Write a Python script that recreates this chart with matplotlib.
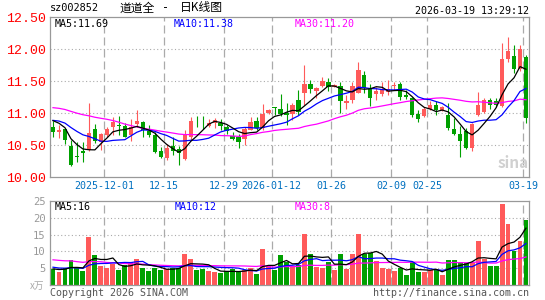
import numpy as np
import matplotlib.pyplot as plt

# 日K数据：开 高 低 收（2025-11-18 ~ 2026-03-19，共80个交易日）
opens = [10.78, 10.70, 10.75, 10.48, 10.33, 10.40, 10.42, 10.75, 10.55, 10.66,
         10.78, 10.82, 10.80, 10.66, 10.83, 10.86, 10.72, 10.66, 10.40, 10.30,
         10.48, 10.43, 10.28, 10.62, 10.88, 10.88, 10.80, 10.84, 10.85, 10.78,
         10.64, 10.63, 10.59, 10.74, 10.88, 10.76, 11.00, 11.09, 11.06, 11.00,
         10.985, 11.20, 11.32, 11.45, 11.34, 11.42, 11.48, 11.41, 11.42, 11.16,
         11.20, 11.31, 11.59, 11.37, 11.30, 11.30, 11.33, 11.42, 11.46, 11.28,
         11.23, 10.985, 10.95, 11.07, 11.125, 11.05, 10.97, 10.75, 10.67, 10.72,
         10.45, 10.97, 11.02, 11.20, 11.19, 11.11, 11.85, 11.89, 11.68, 11.88]
highs = [10.87, 10.82, 10.77, 10.58, 10.54, 10.54, 11.15, 10.83, 10.68, 10.78,
         10.93, 10.96, 10.84, 10.90, 11.04, 10.87, 10.82, 10.70, 10.47, 10.52,
         10.63, 10.48, 10.73, 10.93, 10.95, 10.95, 10.90, 10.92, 10.90, 10.82,
         10.70, 10.67, 10.78, 10.93, 10.93, 11.14, 11.06, 11.09, 11.30, 11.16,
         11.16, 11.36, 11.75, 11.52, 11.41, 11.57, 11.54, 11.45, 11.49, 11.28,
         11.49, 11.79, 11.65, 11.46, 11.41, 11.49, 11.52, 11.49, 11.49, 11.36,
         11.25, 11.05, 11.09, 11.18, 11.18, 11.11, 11.16, 10.92, 10.79, 10.76,
         10.84, 11.33, 11.23, 11.23, 11.23, 12.09, 12.19, 12.06, 12.06, 11.91]
lows = [10.63, 10.61, 10.52, 10.17, 10.24, 10.23, 10.41, 10.53, 10.42, 10.63,
        10.65, 10.65, 10.62, 10.57, 10.78, 10.63, 10.62, 10.37, 10.30, 10.26,
        10.34, 10.19, 10.27, 10.58, 10.78, 10.75, 10.78, 10.76, 10.74, 10.67,
        10.58, 10.46, 10.50, 10.73, 10.74, 10.74, 10.98, 10.97, 10.95, 10.81,
        10.89, 10.97, 11.12, 11.31, 11.23, 11.40, 11.34, 11.40, 11.00, 11.07,
        11.16, 11.31, 11.31, 11.11, 11.20, 11.27, 11.28, 11.36, 11.21, 11.22,
        10.94, 10.86, 10.93, 11.05, 10.97, 11.03, 10.73, 10.66, 10.32, 10.43,
        10.40, 10.96, 11.00, 11.07, 11.10, 11.10, 11.80, 11.63, 11.65, 10.85]
closes = [10.71, 10.74, 10.58, 10.19, 10.31, 10.37, 10.68, 10.57, 10.67, 10.75,
          10.86, 10.80, 10.63, 10.78, 10.88, 10.73, 10.65, 10.39, 10.31, 10.46,
          10.41, 10.37, 10.66, 10.88, 10.87, 10.87, 10.84, 10.89, 10.79, 10.72,
          10.59, 10.55, 10.745, 10.86, 10.76, 10.98, 11.05, 11.08, 10.98, 10.97,
          11.125, 11.02, 11.46, 11.37, 11.385, 11.50, 11.41, 11.44, 11.19, 11.19,
          11.42, 11.67, 11.385, 11.23, 11.35, 11.37, 11.37, 11.43, 11.255, 11.245,
          10.97, 10.90, 11.07, 11.125, 11.045, 11.09, 10.76, 10.67, 10.57, 10.46,
          10.83, 11.125, 11.20, 11.125, 11.125, 11.85, 11.97, 11.68, 12.00, 10.92]
# 成交量（万手）
volumes = [4.8, 4.0, 5.1, 7.3, 5.0, 4.1, 14.3, 8.8, 5.8, 5.0,
           6.3, 4.5, 6.1, 6.8, 7.6, 5.0, 4.1, 5.0, 4.5, 4.8,
           5.1, 5.1, 9.1, 7.6, 4.5, 4.8, 4.1, 3.8, 3.5, 4.1,
           4.8, 3.8, 4.5, 5.0, 3.3, 10.8, 5.6, 4.5, 8.8, 6.8,
           5.8, 6.1, 15.3, 9.1, 5.5, 5.1, 6.8, 4.5, 9.1, 4.8,
           9.1, 15.1, 9.1, 9.5, 7.1, 5.1, 4.8, 4.3, 5.0, 3.1,
           6.8, 3.8, 3.8, 4.5, 4.5, 3.1, 7.5, 7.3, 6.8, 6.5,
           6.5, 13.0, 7.8, 5.8, 5.8, 24.1, 18.1, 10.1, 13.0, 19.3]

# 图内第一天之前29天的收盘价/成交量（按均线起点估计，只用来算均线）
hist_close = [11.05, 11.12, 11.08, 11.15, 11.10, 11.18, 11.25, 11.16, 11.21,
              11.45, 11.58, 11.52, 11.47, 11.50, 11.48,
              10.95, 10.85, 10.82, 10.88, 10.85,
              10.85, 10.90, 10.88, 10.92, 10.90,
              10.94, 10.93, 11.05, 10.77]
hist_vol = [9, 9, 8, 12, 10, 8, 9, 7, 11, 9, 8, 10, 9, 8, 7, 9, 8, 7, 7, 7,
            6.5, 5.5, 6.0, 5.5, 5.5, 5.0, 4.6, 4.8, 4.8]

tick_idx = [9, 19, 29, 37, 47, 57, 63, 79]
tick_labels = ['2025-12-01', '12-15', '12-29', '2026-01-12',
               '01-26', '02-09', '02-25', '03-19']
price_ticks = [10.0, 10.5, 11.0, 11.5, 12.0, 12.5]
vol_ticks = [5, 10, 15, 20, 25]

UP = '#ff5a5a'
DOWN = '#00a000'
GRID = '#aaaaaa'
MONO = 'DejaVu Sans Mono'
plt.rcParams['font.family'] = ['Noto Sans CJK SC', 'DejaVu Sans']


def ma(hist, data, n):
    full = np.array(hist + data, dtype=float)
    out = np.convolve(full, np.ones(n) / n, mode='valid')
    return out[-len(data):]


x = np.arange(len(closes))
o = np.array(opens)
c = np.array(closes)
colors = [UP if cc >= oo else DOWN for oo, cc in zip(o, c)]

W, H = 545, 300
fig = plt.figure(figsize=(W / 100, H / 100), dpi=100)
ax = fig.add_axes([50 / W, 1 - 177 / H, 479 / W, 160 / H])
axv = fig.add_axes([50 / W, 1 - 285 / H, 479 / W, 84 / H])

for a in (ax, axv):
    a.set_xlim(-0.5, len(closes) - 0.5)
    for s in a.spines.values():
        s.set_color('#999999')
        s.set_linewidth(0.9)
    for t in tick_idx:
        a.axvline(t - 0.5, color=GRID, lw=0.9, ls=(0, (6.4, 3.2)), zorder=0)

# ---- K线 ----
ax.set_ylim(10.0, 12.5)
for p in price_ticks[1:-1]:
    ax.axhline(p, color=GRID, lw=0.8, ls=(0, (1, 2.2)), zorder=0)
ax.vlines(x, lows, highs, colors=colors, lw=0.8, zorder=2)
body_h = np.maximum(np.abs(c - o), 0.012)
ax.bar(x, body_h, bottom=np.minimum(o, c), width=0.72, color=colors,
       lw=0, zorder=3)
ax.plot(x, ma(hist_close, closes, 30), color='#ff00ff', lw=0.9, zorder=4)
ax.plot(x, ma(hist_close, closes, 10), color='#0000ff', lw=0.9, zorder=4)
ax.plot(x, ma(hist_close, closes, 5), color='#000000', lw=0.9, zorder=5)

ax.set_yticks(price_ticks)
ax.set_yticklabels(['%.2f' % p for p in price_ticks], color='#ff0000',
                   family='Liberation Mono', fontsize=9.5)
ax.set_xticks([t - 0.5 for t in tick_idx])
ax.set_xticklabels(tick_labels, color='#0070c0', family=MONO, fontsize=7.2)
ax.tick_params(length=0, pad=3.2)

ax.text(5 / 479, 1 - 7 / 160, 'MA5:11.69', transform=ax.transAxes,
        family=MONO, fontsize=7.2, color='#000000', va='center')
ax.text(124 / 479, 1 - 7 / 160, 'MA10:11.38', transform=ax.transAxes,
        family=MONO, fontsize=7.2, color='#0000ff', va='center')
ax.text(245 / 479, 1 - 7 / 160, 'MA30:11.20', transform=ax.transAxes,
        family=MONO, fontsize=7.2, color='#ff00ff', va='center')
ax.text(0.967, 0.09, 'sina', transform=ax.transAxes, ha='center',
        va='center', fontsize=11, fontweight='bold', style='italic',
        color='#d0d0d0', zorder=1)

# ---- 成交量 ----
axv.set_ylim(0, 25)
for v in vol_ticks[:-1]:
    axv.axhline(v, color=GRID, lw=0.8, ls=(0, (1, 2.2)), zorder=0)
axv.bar(x, volumes, width=0.82, color=colors, lw=0, zorder=2)
axv.plot(x, ma(hist_vol, volumes, 30), color='#ff00ff', lw=0.9, zorder=3)
axv.plot(x, ma(hist_vol, volumes, 10), color='#0000ff', lw=0.9, zorder=3)
axv.plot(x, ma(hist_vol, volumes, 5), color='#000000', lw=0.9, zorder=4)
axv.set_yticks(vol_ticks)
axv.set_yticklabels([str(v) for v in vol_ticks], color='#999999',
                    family=MONO, fontsize=7.6)
axv.set_xticks([])
axv.tick_params(length=0, pad=3.2)

axv.text(5 / 479, 1 - 6 / 84, 'MA5:16', transform=axv.transAxes,
         family=MONO, fontsize=7.2, color='#000000', va='center')
axv.text(125 / 479, 1 - 6 / 84, 'MA10:12', transform=axv.transAxes,
         family=MONO, fontsize=7.2, color='#0000ff', va='center')
axv.text(245 / 479, 1 - 6 / 84, 'MA30:8', transform=axv.transAxes,
         family=MONO, fontsize=7.2, color='#ff00ff', va='center')

# ---- 标题和页脚 ----
fig.text(50 / W, 1 - 8 / H, 'sz002852', family=MONO, fontsize=7.4,
         va='center', color='#000000')
fig.text(120 / W, 1 - 8 / H, '道道全', fontsize=8.5, va='center',
         color='#000000')
fig.text(166 / W, 1 - 8 / H, '-', family=MONO, fontsize=8.5, ha='center',
         va='center', color='#000000')
fig.text(180 / W, 1 - 8 / H, '日K线图', fontsize=8.5, va='center',
         color='#000000')
fig.text(529 / W, 1 - 11 / H, '2026-03-19 13:29:12', family=MONO,
         fontsize=7.2, ha='right', va='center', color='#000000')
fig.text(44 / W, 1 - 286 / H, 'x万', fontsize=7, ha='right', va='center',
         color='#aaaaaa')
fig.text(50 / W, 1 - 293 / H, 'Copyright 2026 SINA.COM', family=MONO,
         fontsize=7.2, va='center', color='#555555')
fig.text(529 / W, 1 - 293 / H, 'http://finance.sina.com.cn', family=MONO,
         fontsize=7.2, ha='right', va='center', color='#555555')

fig.savefig('out.png', dpi=100, facecolor='white')
